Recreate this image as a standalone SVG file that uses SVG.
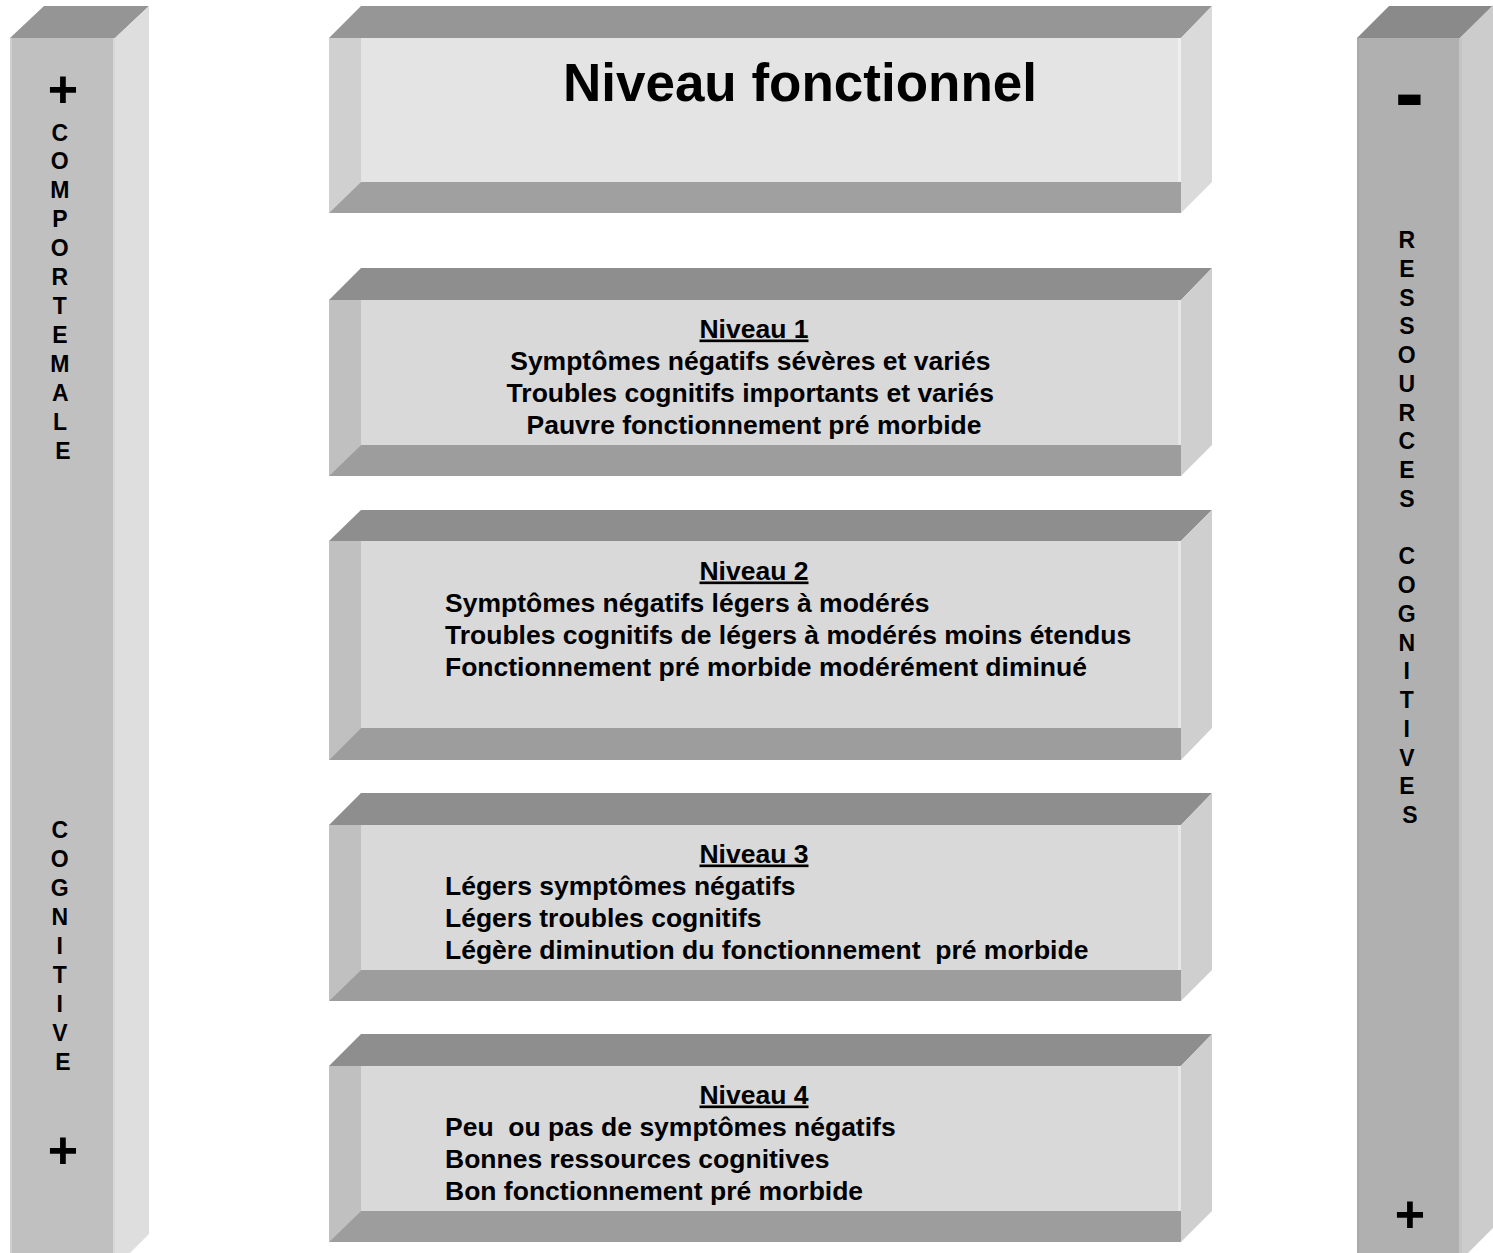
<svg xmlns="http://www.w3.org/2000/svg" width="1493" height="1253" viewBox="0 0 1493 1253">
  <style>
    .txt { font-family: "Liberation Sans", Arial, sans-serif; font-weight: bold; fill: #000; }
    .body { font-size: 26.5px; }
    .head { font-size: 26.5px; text-decoration: underline; }
    .title { font-size: 53px; }
    .vl { font-size: 23px; text-anchor: middle; }
    .sign { text-anchor: middle; }
    /* title box faces */
    .t-top { fill: #969696; }
    .t-front { fill: #e4e4e4; }
    .t-left { fill: #d0d0d0; }
    .t-bottom { fill: #a0a0a0; }
    .t-side { fill: #dadada; }
    .t-hl { fill: #efefef; }
    /* level box faces */
    .b-top { fill: #8e8e8e; }
    .b-front { fill: #d9d9d9; }
    .b-left { fill: #c0c0c0; }
    .b-bottom { fill: #9d9d9d; }
    .b-side { fill: #cfcfcf; }
    .b-hl { fill: #e6e6e6; }
  </style>

  <rect width="1493" height="1253" fill="#ffffff"/>

  <!-- Left column: comportement / cognitive -->
  <g id="left-bar">
    <polygon points="10,38 44,6 149,6 115,38" fill="#959595"/>
    <polygon points="115,38 149,6 149,1234 115,1268" fill="#dedede"/>
    <rect x="10" y="38" width="105" height="1230" fill="#c0c0c0"/>
    <rect x="10" y="38" width="2" height="1230" fill="#cfcfcf"/>
    <rect x="113" y="38" width="2" height="1230" fill="#d6d6d6"/>
    <text class="txt sign" x="63" y="107" font-size="52">+</text>
    <text class="txt vl" x="63">
      <tspan x="63" y="141">C</tspan>
      <tspan x="63" y="169">O</tspan>
      <tspan x="63" y="198">M</tspan>
      <tspan x="63" y="227">P</tspan>
      <tspan x="63" y="256">O</tspan>
      <tspan x="63" y="285">R</tspan>
      <tspan x="63" y="314">T</tspan>
      <tspan x="63" y="343">E</tspan>
      <tspan x="63" y="372">M</tspan>
      <tspan x="63" y="401">A</tspan>
      <tspan x="63" y="430">L</tspan>
      <tspan x="63" y="459">E</tspan>
    </text>
    <text class="txt vl" x="63">
      <tspan x="63" y="838">C</tspan>
      <tspan x="63" y="867">O</tspan>
      <tspan x="63" y="896">G</tspan>
      <tspan x="63" y="925">N</tspan>
      <tspan x="63" y="954">I</tspan>
      <tspan x="63" y="983">T</tspan>
      <tspan x="63" y="1012">I</tspan>
      <tspan x="63" y="1041">V</tspan>
      <tspan x="63" y="1070">E</tspan>
    </text>
    <text class="txt sign" x="63" y="1168" font-size="52">+</text>
  </g>

  <!-- Right column: ressources cognitives -->
  <g id="right-bar">
    <polygon points="1357,38 1389,6 1493,6 1460,38" fill="#8a8a8a"/>
    <polygon points="1460,38 1493,5 1493,1228 1460,1261" fill="#cccccc"/>
    <rect x="1357" y="38" width="103" height="1230" fill="#b0b0b0"/>
    <rect x="1357" y="38" width="2" height="1230" fill="#a9a9a9"/>
    <rect x="1459" y="38" width="3" height="1230" fill="#c4c4c4"/>
    <text class="txt sign" x="1409.5" y="122" font-size="88">-</text>
    <text class="txt vl" x="1410">
      <tspan x="1410" y="248">R</tspan>
      <tspan x="1410" y="276.75">E</tspan>
      <tspan x="1410" y="305.5">S</tspan>
      <tspan x="1410" y="334.25">S</tspan>
      <tspan x="1410" y="363">O</tspan>
      <tspan x="1410" y="391.75">U</tspan>
      <tspan x="1410" y="420.5">R</tspan>
      <tspan x="1410" y="449.25">C</tspan>
      <tspan x="1410" y="478">E</tspan>
      <tspan x="1410" y="506.75">S</tspan>
      <tspan x="1410" y="564.25">C</tspan>
      <tspan x="1410" y="593">O</tspan>
      <tspan x="1410" y="621.75">G</tspan>
      <tspan x="1410" y="650.5">N</tspan>
      <tspan x="1410" y="679.25">I</tspan>
      <tspan x="1410" y="708">T</tspan>
      <tspan x="1410" y="736.75">I</tspan>
      <tspan x="1410" y="765.5">V</tspan>
      <tspan x="1410" y="794.25">E</tspan>
      <tspan x="1410" y="823">S</tspan>
    </text>
    <text class="txt sign" x="1410" y="1232" font-size="52">+</text>
  </g>

  <!-- Title block -->
  <g id="title">
    <polygon class="t-top" points="329,38 361,6 1212,6 1181,38"/>
    <polygon class="t-side" points="1181,38 1212,6 1212,182 1181,213"/>
    <rect class="t-front" x="329" y="38" width="852" height="175"/>
    <polygon class="t-left" points="329,38 361,38 361,182 329,213"/>
    <polygon class="t-bottom" points="329,213 361,182 1181,182 1181,213"/>
    <rect class="t-hl" x="1178" y="38" width="3" height="144"/>
    <text class="txt title" x="800" y="101" text-anchor="middle">Niveau fonctionnel</text>
  </g>

  <!-- Level 1 -->
  <g id="niveau-1">
    <polygon class="b-top" points="329,300 361,268 1212,268 1181,300"/>
    <polygon class="b-side" points="1181,300 1212,268 1212,445 1181,476"/>
    <rect class="b-front" x="329" y="300" width="852" height="176"/>
    <polygon class="b-left" points="329,300 361,300 361,445 329,476"/>
    <polygon class="b-bottom" points="329,476 361,445 1181,445 1181,476"/>
    <rect class="b-hl" x="1178" y="300" width="3" height="145"/>
    <text class="txt head" x="754" y="337.5" text-anchor="middle">Niveau 1</text>
    <text class="txt body" text-anchor="middle">
      <tspan x="754" y="369.5">Symptômes négatifs sévères et variés</tspan>
      <tspan x="754" y="401.5">Troubles cognitifs importants et variés</tspan>
      <tspan x="754" y="433.5">Pauvre fonctionnement pré morbide</tspan>
    </text>
  </g>

  <!-- Level 2 -->
  <g id="niveau-2">
    <polygon class="b-top" points="329,541 361,510 1212,510 1181,541"/>
    <polygon class="b-side" points="1181,541 1212,510 1212,728 1181,760"/>
    <rect class="b-front" x="329" y="541" width="852" height="219"/>
    <polygon class="b-left" points="329,541 361,541 361,728 329,760"/>
    <polygon class="b-bottom" points="329,760 361,728 1181,728 1181,760"/>
    <rect class="b-hl" x="1178" y="541" width="3" height="187"/>
    <text class="txt head" x="754" y="579.5" text-anchor="middle">Niveau 2</text>
    <text class="txt body">
      <tspan x="445" y="611.5">Symptômes négatifs légers à modérés</tspan>
      <tspan x="445" y="643.5">Troubles cognitifs de légers à modérés moins étendus</tspan>
      <tspan x="445" y="675.5">Fonctionnement pré morbide modérément diminué</tspan>
    </text>
  </g>

  <!-- Level 3 -->
  <g id="niveau-3">
    <polygon class="b-top" points="329,825 361,793 1212,793 1181,825"/>
    <polygon class="b-side" points="1181,825 1212,793 1212,970 1181,1001"/>
    <rect class="b-front" x="329" y="825" width="852" height="176"/>
    <polygon class="b-left" points="329,825 361,825 361,970 329,1001"/>
    <polygon class="b-bottom" points="329,1001 361,970 1181,970 1181,1001"/>
    <rect class="b-hl" x="1178" y="825" width="3" height="145"/>
    <text class="txt head" x="754" y="862.5" text-anchor="middle">Niveau 3</text>
    <text class="txt body">
      <tspan x="445" y="894.5">Légers symptômes négatifs</tspan>
      <tspan x="445" y="926.5">Légers troubles cognitifs</tspan>
      <tspan x="445" y="958.5" xml:space="preserve">Légère diminution du fonctionnement  pré morbide</tspan>
    </text>
  </g>

  <!-- Level 4 -->
  <g id="niveau-4">
    <polygon class="b-top" points="329,1066 361,1034 1212,1034 1181,1066"/>
    <polygon class="b-side" points="1181,1066 1212,1034 1212,1211 1181,1242"/>
    <rect class="b-front" x="329" y="1066" width="852" height="176"/>
    <polygon class="b-left" points="329,1066 361,1066 361,1211 329,1242"/>
    <polygon class="b-bottom" points="329,1242 361,1211 1181,1211 1181,1242"/>
    <rect class="b-hl" x="1178" y="1066" width="3" height="145"/>
    <text class="txt head" x="754" y="1103.5" text-anchor="middle">Niveau 4</text>
    <text class="txt body">
      <tspan x="445" y="1135.5" xml:space="preserve">Peu  ou pas de symptômes négatifs</tspan>
      <tspan x="445" y="1167.5">Bonnes ressources cognitives</tspan>
      <tspan x="445" y="1199.5">Bon fonctionnement pré morbide</tspan>
    </text>
  </g>

  <!-- no connectors in this figure -->
  <g id="connectors"/>
</svg>
